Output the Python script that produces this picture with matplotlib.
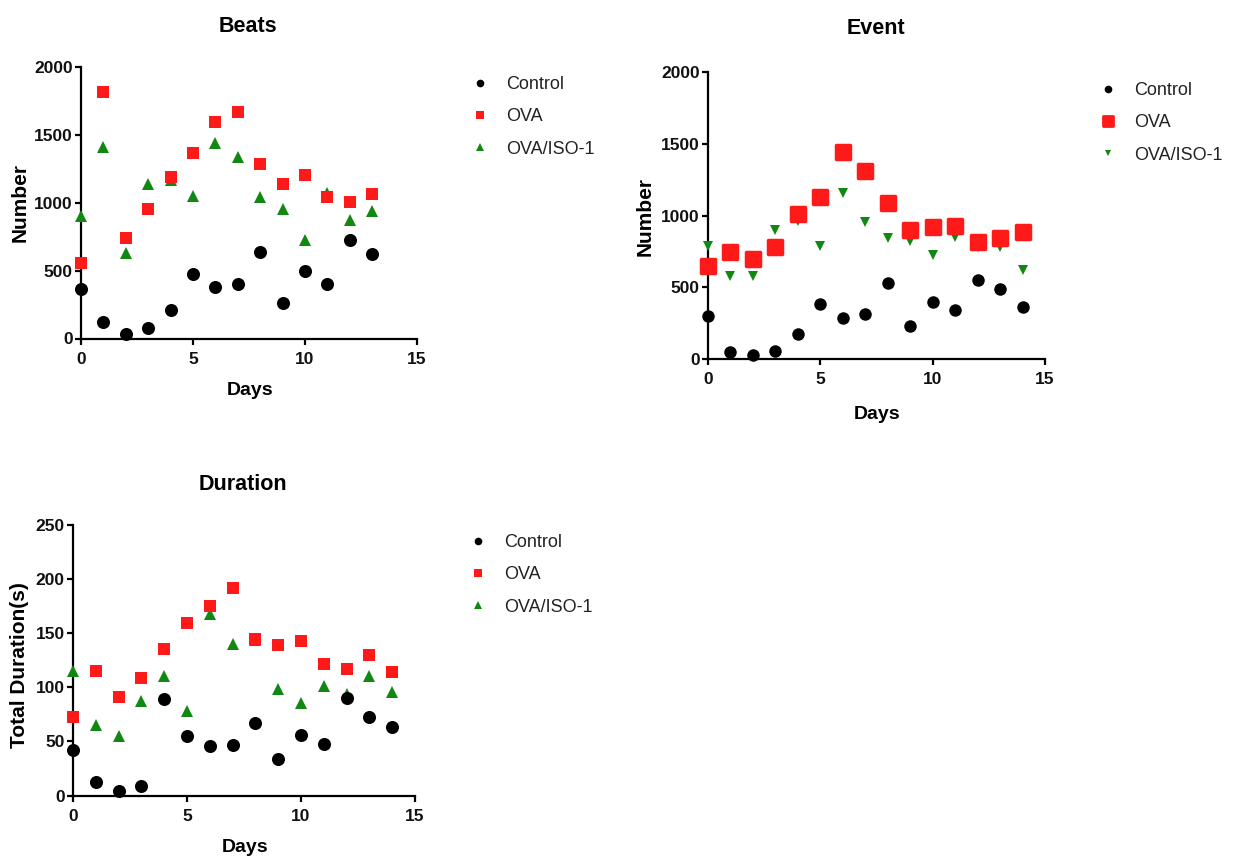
import numpy as np
import matplotlib
matplotlib.use('Agg')
import matplotlib.pyplot as plt
from matplotlib.lines import Line2D
from matplotlib.markers import MarkerStyle

plt.rcParams['font.family'] = ['Liberation Sans', 'DejaVu Sans']

W, H = 1251, 859

# ---- data ----
beats_days = list(range(14))
beats_control = [364, 125, 34, 74, 211, 477, 376, 400, 636, 265, 496, 400, 725, 622]
beats_ova = [555, 1813, 744, 953, 1187, 1364, 1597, 1671, 1285, 1140, 1206, 1044, 1007, 1064]
beats_iso = [899, 1410, 629, 1140, 1165, 1052, 1440, 1339, 1039, 956, 722, 1071, 870, 941]

event_days = list(range(15))
event_control = [301, 51, 30, 58, 176, 380, 283, 313, 528, 232, 396, 343, 552, 489, 362]
event_ova = [651, 746, 700, 783, 1010, 1131, 1444, 1309, 1089, 899, 922, 927, 818, 841, 885]
event_iso = [788, 575, 579, 899, 964, 788, 1154, 957, 846, 825, 725, 848, 783, 779, 621]

dur_days = list(range(15))
dur_control = [42, 12.6, 4, 8.6, 89, 54.6, 45.6, 46.9, 67.2, 33.6, 55.8, 47.5, 90.3, 72.4, 63.2]
dur_ova = [72.4, 115, 90.6, 109, 135.6, 159, 175.4, 191.8, 144.9, 139.3, 142.7, 121.2, 117.1, 129.8, 113.8]
dur_iso = [114.7, 65, 54.9, 87, 110.7, 77.7, 167.4, 140, 144, 98.3, 85.7, 101.4, 94, 110, 95.3]

labels = ['Control', 'OVA', 'OVA/ISO-1']
RED = '#ff1a1a'
GREEN = '#118811'
round_sq = MarkerStyle('s', joinstyle='round')


def rect(left, top, right, bottom):
    return [left / W, 1 - bottom / H, (right - left) / W, (bottom - top) / H]


def style_axes(ax, ymax, ystep):
    ax.set_xlim(0, 15)
    ax.set_ylim(0, ymax)
    ax.set_xticks([0, 5, 10, 15])
    ax.set_yticks(np.arange(0, ymax + 1, ystep))
    for s in ['top', 'right']:
        ax.spines[s].set_visible(False)
    for s in ['left', 'bottom']:
        ax.spines[s].set_linewidth(1.6)
    ax.tick_params(direction='out', length=4.5, width=1.6, labelsize=12.5)
    ax.tick_params(axis='x', pad=5)
    ax.tick_params(axis='y', pad=1.5)
    for t in ax.get_xticklabels() + ax.get_yticklabels():
        t.set_fontweight('bold')
        t.set_color('#111111')


def ftext(x, y, s, **kw):
    fig.text(x / W, 1 - y / H, s, ha='center', va='center', fontweight='bold', **kw)


def add_legend(ax, handles, x, y):
    ax.legend(handles=handles, labels=labels, loc='upper left',
              bbox_to_anchor=(x / W, 1 - y / H), bbox_transform=fig.transFigure,
              frameon=False, fontsize=13, handlelength=0.7, handletextpad=1.1,
              labelspacing=0.85, borderpad=0, borderaxespad=0, labelcolor='#222222')


fig = plt.figure(figsize=(W / 100, H / 100), dpi=100)

# ---- Beats ----
ax1 = fig.add_axes(rect(81, 67, 417, 338.5))
ax1.plot(beats_days, beats_iso, '^', color=GREEN, ms=8.5, mew=0, clip_on=False, zorder=3)
ax1.plot(beats_days, beats_ova, 's', color=RED, ms=8.6, mew=0, clip_on=False, zorder=4)
ax1.plot(beats_days, beats_control, 'o', color='black', ms=9.4, mew=0, clip_on=False, zorder=5)
style_axes(ax1, 2000, 500)
h1 = [Line2D([], [], ls='none', marker='o', color='black', ms=5.5, mew=0),
      Line2D([], [], ls='none', marker='s', color=RED, ms=5.5, mew=0),
      Line2D([], [], ls='none', marker='^', color=GREEN, ms=5.5, mew=0)]
add_legend(ax1, h1, 474, 76)
ftext(248, 27, 'Beats', fontsize=15.5)
ftext(20, 203, 'Number', fontsize=15, rotation=90)
ftext(250, 391, 'Days', fontsize=14)

# ---- Event ----
ax2 = fig.add_axes(rect(708, 72, 1045, 359))
ax2.plot(event_days, event_iso, 'v', color=GREEN, ms=7.5, mew=0, clip_on=False, zorder=3)
ax2.plot(event_days, event_ova, ls='none', marker=round_sq, color=RED, ms=9.5, mew=2.5,
         mec=RED, clip_on=False, zorder=4)
ax2.plot(event_days, event_control, 'o', color='black', ms=9, mew=0, clip_on=False, zorder=5)
style_axes(ax2, 2000, 500)
h2 = [Line2D([], [], ls='none', marker='o', color='black', ms=5.5, mew=0),
      Line2D([], [], ls='none', marker=round_sq, color=RED, ms=6.5, mew=2, mec=RED),
      Line2D([], [], ls='none', marker='v', color=GREEN, ms=5, mew=0)]
add_legend(ax2, h2, 1102, 82)
ftext(876, 29, 'Event', fontsize=15.5)
ftext(645, 216, 'Number', fontsize=15, rotation=90)
ftext(877, 414, 'Days', fontsize=14)

# ---- Duration ----
ax3 = fig.add_axes(rect(73, 525, 415, 795.5))
ax3.plot(dur_days, dur_iso, '^', color=GREEN, ms=8.5, mew=0, clip_on=False, zorder=3)
ax3.plot(dur_days, dur_ova, 's', color=RED, ms=9, mew=0, clip_on=False, zorder=4)
ax3.plot(dur_days, dur_control, 'o', color='black', ms=9.4, mew=0, clip_on=False, zorder=5)
style_axes(ax3, 250, 50)
h3 = [Line2D([], [], ls='none', marker='o', color='black', ms=5.5, mew=0),
      Line2D([], [], ls='none', marker='s', color=RED, ms=5.5, mew=0),
      Line2D([], [], ls='none', marker='^', color=GREEN, ms=5.5, mew=0)]
add_legend(ax3, h3, 472, 534)
ftext(243, 484, 'Duration', fontsize=15.5)
ftext(20, 665, 'Total Duration(s)', fontsize=15, rotation=90)
ftext(245, 848, 'Days', fontsize=14)

fig.savefig('out.png', dpi=100)
